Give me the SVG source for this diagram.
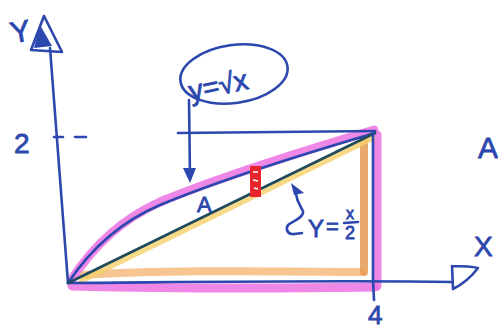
<svg xmlns="http://www.w3.org/2000/svg" width="498" height="329" viewBox="0 0 498 329">
<style>
.ink{fill:none;stroke:#2c47ad;stroke-width:2.6;stroke-linecap:round;stroke-linejoin:round}
.lbl{font-family:"Liberation Sans",Arial,sans-serif;fill:#2c47ad;stroke:#2c47ad;stroke-width:0.8}
.mag{fill:none;stroke:#ec72e2;stroke-width:9;stroke-linecap:round;opacity:0.85}
.org{fill:none;stroke:#f4b26e;stroke-width:8;stroke-linecap:round;opacity:0.75}
</style>
<rect width="498" height="329" fill="#ffffff"/>
<!-- highlights -->
<path class="mag" d="M72,279 C92,248 120,220 160,202 C220,177 300,152 374,130"/>
<path class="mag" d="M72,286 C150,288 250,289 375,287"/>
<path class="mag" d="M377,135 L377,286"/>
<path class="org" d="M84,275 C150,270 250,271 362,272"/>
<path d="M364,140 L364,272" fill="none" stroke="#e69a52" stroke-width="8" stroke-linecap="round" opacity="0.85"/>
<path d="M82,280 L372,138" fill="none" stroke="#f5d06a" stroke-width="6" stroke-linecap="round" opacity="0.8"/>
<!-- axes -->
<g id="y-axis">
<path class="ink" d="M68,283 L50,48"/>
<path class="ink" d="M31,50 L44,16 L62,52 Z"/>
<path d="M40,25 L34,48 L52,46 Z" fill="#2c47ad"/>
<text class="lbl" x="10" y="42" font-size="30" transform="rotate(-10 20 30)">Y</text>
<path class="ink" d="M54,137 L63,137 M75,137 L86,137"/>
<text class="lbl" x="14" y="153" font-size="28">2</text>
</g>
<g id="x-axis">
<path class="ink" d="M68,283 C200,282 350,280 452,282"/>
<path class="ink" d="M452,266 L453,289 C465,283 472,276 478,268 C470,266 460,266 452,266"/>
<text class="lbl" x="474" y="256" font-size="28">X</text>
<path class="ink" d="M373,280 L374,300"/>
<text class="lbl" x="368" y="324" font-size="26">4</text>
</g>
<!-- region lines -->
<g id="curve-sqrt">
<path class="ink" d="M68,283 C90,250 120,222 160,205 C220,180 300,155 375,133"/>
</g>
<g id="line-half">
<path d="M68,283 L375,133" fill="none" stroke="#1f4b5c" stroke-width="2.6" stroke-linecap="round"/>
</g>
<g id="box">
<path class="ink" d="M178,133 C250,132 320,132 375,131"/>
<path class="ink" d="M373,133 L373,282"/>
</g>
<g id="strip">
<rect x="250" y="166" width="11" height="31" fill="#e8242c"/>
<path d="M253,172 L258,172 M253,180 L258,181 M254,188 L258,189" stroke="#ffffff" stroke-width="1.6" fill="none"/>
</g>
<g id="label-sqrt">
<ellipse class="ink" cx="234" cy="74" rx="54" ry="29" transform="rotate(-8 234 74)"/>
<text class="lbl" x="191" y="101" font-size="28" transform="rotate(-12 191 101)">y=√x</text>
</g>
<g id="connectors">
<path class="ink" d="M189,100 L190,178"/>
<path d="M183,168 L190,183 L196,168 Z" fill="#2c47ad"/>
<path class="ink" d="M296,194 C298,208 306,210 302,215 C298,222 285,222 287,230 C289,236 296,234 302,233"/>
<path d="M291,183 L294,195 L304,193 Z" fill="#2c47ad"/>
</g>
<text class="lbl" x="197" y="212" font-size="22">A</text>
<text class="lbl" x="478" y="158" font-size="30">A</text>
<g id="label-half">
<text class="lbl" x="308" y="237" font-size="24">Y</text>
<text class="lbl" x="326" y="234" font-size="22">=</text>
<text class="lbl" x="346" y="219" font-size="16">x</text>
<path class="ink" d="M344,223 L358,222" stroke-width="2"/>
<text class="lbl" x="345" y="239" font-size="18">2</text>
</g>
</svg>
